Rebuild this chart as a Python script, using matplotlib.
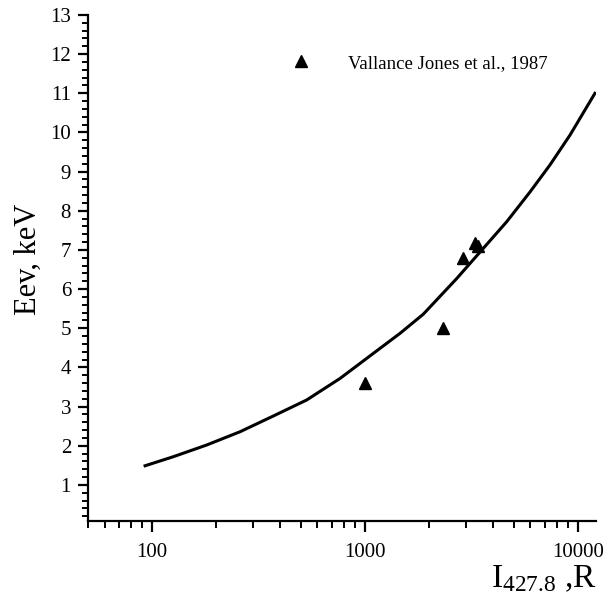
import numpy as np
import matplotlib
matplotlib.use("Agg")
import matplotlib.pyplot as plt
from matplotlib.ticker import MultipleLocator, LogLocator, FixedLocator

plt.rcParams['font.family'] = ['Liberation Serif', 'DejaVu Serif']
plt.rcParams['mathtext.fontset'] = 'custom'
plt.rcParams['mathtext.rm'] = 'Liberation Serif'
plt.rcParams['mathtext.it'] = 'Liberation Serif'

# model curve
curve_i = [93, 126, 181, 260, 372, 534, 766, 1098, 1464, 1884, 2704,
           3604, 4642, 5973, 7413, 9200, 12056]
curve_e = [1.49, 1.72, 2.02, 2.36, 2.76, 3.17, 3.72, 4.36, 4.87, 5.36, 6.27,
           7.04, 7.72, 8.48, 9.17, 9.93, 11.0]

# Vallance Jones et al., 1987
obs_i = [1000, 2320, 2890, 3280, 3400]
obs_e = [3.6, 5.0, 6.8, 7.19, 7.1]

xticks = [100, 1000, 10000]
xticklabels = ["100", "1000", "10000"]
yticks = list(range(1, 14))

fig = plt.figure(figsize=(6.14, 5.97), dpi=100)
ax = fig.add_axes([0.1428, 0.1273, 0.8279, 0.8476])

ax.plot(curve_i, curve_e, color="black", lw=2.2)
ax.plot(obs_i, obs_e, linestyle="none", marker="^", color="black",
        markersize=9, label="Vallance Jones et al., 1987")

ax.set_xscale("log")
ax.set_xlim(50, 12200)
ax.set_ylim(0.08, 13)

ax.xaxis.set_major_locator(FixedLocator(xticks))
ax.set_xticklabels(xticklabels)
ax.xaxis.set_minor_locator(LogLocator(base=10, subs=np.arange(2, 10)))
ax.xaxis.set_minor_formatter(plt.NullFormatter())
ax.set_yticks(yticks)
ax.yaxis.set_minor_locator(MultipleLocator(0.2))

for s in ["top", "right"]:
    ax.spines[s].set_visible(False)
for s in ["left", "bottom"]:
    ax.spines[s].set_linewidth(1.6)

ax.tick_params(which="major", direction="out", length=7, width=1.6,
               labelsize=15, pad=5)
ax.tick_params(which="minor", direction="out", length=4, width=1.4)
ax.tick_params(axis="x", which="major", length=8, pad=8)
ax.tick_params(axis="x", which="minor", length=5)

fig.text(0.046, 0.566, "Eev, keV", fontsize=22, rotation=90,
         ha="center", va="center")
fig.text(0.971, 0.017, r"I$_{\mathrm{427.8}}$ ,R", fontsize=24,
         ha="right", va="baseline")

ax.legend(loc="center left", bbox_to_anchor=(0.447, 0.894), frameon=False,
          fontsize=13.5, handlelength=1, handletextpad=2.0,
          bbox_transform=fig.transFigure)

fig.savefig("out.png", dpi=100)
